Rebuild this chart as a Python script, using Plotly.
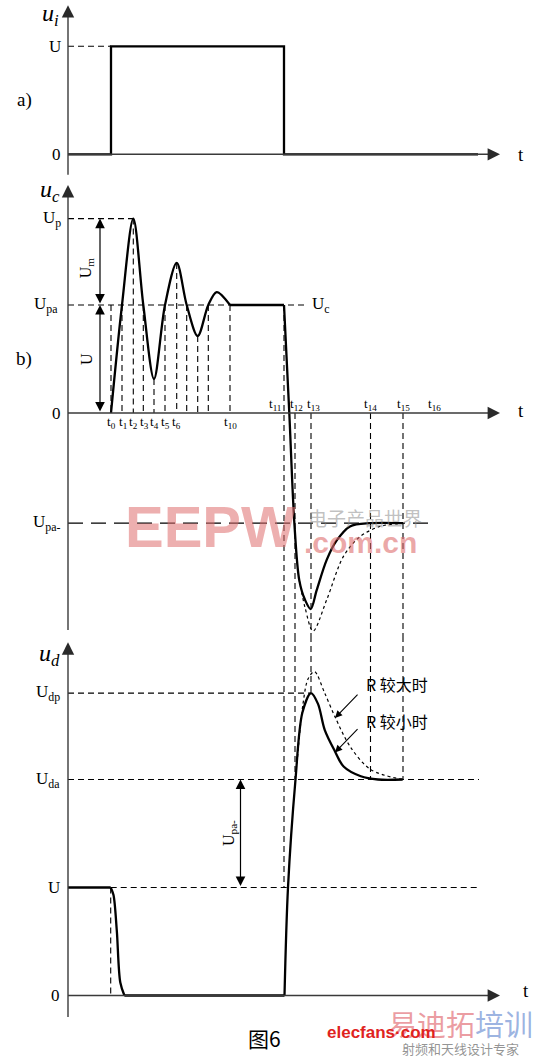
import plotly.graph_objects as go

# ---- data (time in arbitrary units, voltage in units of U) ----
# a) input pulse u_i
ui_t = [0, 4.3, 4.3, 21.6, 21.6, 41.0]
ui_v = [0, 0, 1.0, 1.0, 0, 0]

# b) capacitor voltage u_c
uc_osc_t = [4.3, 5.4, 6.53, 7.53, 8.6, 9.7, 10.87, 11.87, 12.97, 14.03, 14.87, 16.2]
uc_osc_v = [0, 1.0, 1.8, 1.0, 0.315, 1.0, 1.39, 1.0, 0.713, 1.0, 1.12, 1.0]
uc_flat_t = [16.2, 21.6]
uc_flat_v = [1.0, 1.0]
uc_fall_t = [21.6, 22.13, 22.63, 23.13, 23.7, 24.27, 24.87, 25.87, 26.87, 28.2, 30.2, 33.5]
uc_fall_v = [1.0, 0, -1.01, -1.55, -1.73, -1.815, -1.64, -1.36, -1.18, -1.05, -1.02, -1.02]
uc_dot_t = [23.13, 23.7, 24.5, 25.87, 27.53, 29.2, 31.2, 33.5]
uc_dot_v = [-1.55, -1.8, -2.02, -1.73, -1.33, -1.145, -1.05, -1.02]

# c) diode voltage u_d
ud_hold_t = [0, 4.27]
ud_hold_v = [1.0, 1.0]
ud_drop_t = [4.27, 4.55, 4.88, 5.23, 5.64]
ud_drop_v = [1.0, 0.93, 0.6, 0.12, 0]
ud_low_t = [5.64, 21.65]
ud_low_v = [0, 0]
ud_rise_t = [21.65, 22.0, 22.75, 23.44, 24.3, 25.0, 25.67, 26.7, 27.56, 29.28, 31.0, 33.47]
ud_rise_v = [0, 1.0, 2.0, 2.62, 2.8, 2.7, 2.46, 2.26, 2.12, 2.03, 2.0, 2.0]
ud_dot_t = [22.9, 23.5, 24.0, 24.64, 25.67, 26.7, 28.25, 30.3, 33.47]
ud_dot_v = [2.15, 2.7, 2.93, 3.0, 2.8, 2.58, 2.30, 2.09, 2.0]

# levels
U = 1.0
U_P = 1.8
U_PA = 1.0
U_PA_NEG = -1.02
U_DP = 2.8
U_DA = 2.0

# dashed drop lines in b) (time, top value)
gb_t = [4.3, 5.4, 6.53, 7.53, 8.6, 9.7, 10.87, 11.87, 12.97, 14.03, 16.2]
gb_top = [1.0, 1.0, 1.8, 1.0, 0.315, 1.0, 1.39, 1.0, 0.713, 1.0, 1.0]

# long dashed lines t11..t15 crossing b) and c)
long_t = [21.6, 22.7, 24.3, 30.25, 33.5]
long_top_b = [1.0, 0, 0, 0, 0]
long_end_c = [1.0, 2.0, 2.8, 2.0, 2.0]

# time labels
tlow_names = ['0', '1', '2', '3', '4', '5', '6', '10']
tlow_pos = [4.37, 5.47, 6.57, 7.65, 8.65, 9.75, 10.83, 16.2]
thigh_names = ['11', '12', '13', '14', '15', '16']
thigh_pos = [20.7, 22.85, 24.5, 30.2, 33.55, 36.65]

# ---- layout helpers ----
W, H = 539, 1057
PX_T = 10.0      # px per time unit
X0 = 68          # px of the vertical axes
PX_V = 108.0     # px per U
SERIF = 'Liberation Serif'
CJK = 'Noto Sans CJK SC'

# panel: (top px, bottom px, zero px)
panels = {
    'y': (0, 178, 154.3),
    'y2': (178, 636, 413),
    'y3': (636, 1057, 995.5),
}


def yax(top, bot, zero):
    return dict(domain=[1 - bot / H, 1 - top / H],
                range=[(zero - bot) / PX_V, (zero - top) / PX_V],
                visible=False, anchor='x', fixedrange=True)


fig = go.Figure()


def curve(t, v, yref, width=2.3, dash=None, shape='spline'):
    fig.add_trace(go.Scatter(
        x=t, y=v, yaxis=yref, mode='lines', hoverinfo='skip', showlegend=False,
        line=dict(color='black', width=width, dash=dash, shape=shape, smoothing=0.9),
    ))


def dashed(x0, y0, x1, y1, yref, dash='6px,4px'):
    fig.add_shape(type='line', xref='x', yref=yref, x0=x0, y0=y0, x1=x1, y1=y1,
                  line=dict(color='black', width=1.1, dash=dash), layer='below')


def arrow(x, y, ax, ay, yref, both=False, color='#2a2a2a', width=1.3, size=1.3):
    fig.add_annotation(x=x, y=y, ax=ax, ay=ay, xref='x', yref=yref, axref='x', ayref=yref,
                       text='', showarrow=True, arrowhead=2, arrowsize=size,
                       arrowwidth=width, arrowcolor=color, standoff=0, startstandoff=0,
                       arrowside='end+start' if both else 'end', startarrowhead=2,
                       startarrowsize=size)


def label(x, y, text, yref, size=17, xanchor='center', angle=0, font=SERIF, color='black'):
    fig.add_annotation(x=x, y=y, xref='x', yref=yref, text=text, showarrow=False,
                       xanchor=xanchor, yanchor='middle', textangle=angle,
                       font=dict(family=font, size=size, color=color))


T_ARROW = 43.2
LEFT = -0.5

# axes with arrows
axis_v = {'y': (-0.19, 1.38), 'y2': (-2.01, 2.11), 'y3': (-0.2, 3.27)}
for yref, (lo, hi) in axis_v.items():
    fig.add_shape(type='line', xref='x', yref=yref, x0=0, y0=lo, x1=0, y1=hi - 0.1,
                  line=dict(color='#3a3a3a', width=1.4))
    arrow(0, hi, 0, hi - 0.12, yref, size=1.9)
    fig.add_shape(type='line', xref='x', yref=yref, x0=0, y0=0, x1=T_ARROW - 1, y1=0,
                  line=dict(color='#3a3a3a', width=1.4))
    arrow(T_ARROW, 0, T_ARROW - 1.1, 0, yref, size=1.9)

label(44.8, 0, 't', 'y', size=19, xanchor='left')
label(44.8, 0.02, 't', 'y2', size=19, xanchor='left')
label(45.3, 0.05, 't', 'y3', size=19, xanchor='left')

label(-1.8, 1.29, '<i>u<sub>i</sub></i>', 'y', size=24)
label(-1.8, 2.06, '<i>u<sub>c</sub></i>', 'y2', size=24)
label(-1.9, 3.15, '<i>u<sub>d</sub></i>', 'y3', size=24)
label(-4.4, 0.5, 'a)', 'y', size=19)
label(-4.4, 0.5, 'b)', 'y2', size=19)

# ---- panel a ----
dashed(0, U, ui_t[2], U, 'y')
curve(ui_t, ui_v, 'y', shape='linear')
label(LEFT, U, 'U', 'y', xanchor='right')
label(LEFT, 0, '0', 'y', xanchor='right')

# ---- panel b ----
b_bottom = (panels['y2'][2] - panels['y2'][1]) / PX_V
dashed(0, U_P, uc_osc_t[2], U_P, 'y2')
dashed(0, U_PA, 23.9, U_PA, 'y2')
dashed(0, U_PA_NEG, 36.7, U_PA_NEG, 'y2', dash='15px,8px')
for t, top in zip(gb_t, gb_top):
    dashed(t, top, t, 0, 'y2')
for t, top in zip(long_t, long_top_b):
    dashed(t, top, t, b_bottom, 'y2')

label(LEFT, U_P, 'U<sub>p</sub>', 'y2', xanchor='right')
label(LEFT - 0.3, U_PA, 'U<sub>pa</sub>', 'y2', xanchor='right')
label(LEFT, 0, '0', 'y2', xanchor='right')
label(LEFT, U_PA_NEG, 'U<sub>pa-</sub>', 'y2', xanchor='right')
label(24.2, U_PA, 'U<sub>c</sub>', 'y2', xanchor='left')

arrow(3.2, U_P, 3.2, U_PA, 'y2', both=True, color='black', width=1.2, size=1.6)
arrow(3.2, U_PA, 3.2, 0, 'y2', both=True, color='black', width=1.2, size=1.6)
label(1.8, 1.34, 'U<sub>m</sub>', 'y2', size=16, angle=-90)
label(1.8, 0.5, 'U', 'y2', size=16, angle=-90)

for name, pos in zip(tlow_names, tlow_pos):
    label(pos, -0.085, f't<sub>{name}</sub>', 'y2', size=13)
for name, pos in zip(thigh_names, thigh_pos):
    label(pos, 0.075, f't<sub>{name}</sub>', 'y2', size=13)

curve(uc_osc_t, uc_osc_v, 'y2')
curve(uc_flat_t, uc_flat_v, 'y2', shape='linear')
curve(uc_fall_t, uc_fall_v, 'y2')
curve(uc_dot_t, uc_dot_v, 'y2', width=1.2, dash='dot')

# ---- panel c ----
dashed(0, U_DP, ud_rise_t[4], U_DP, 'y3')
dashed(0, U_DA, 41.1, U_DA, 'y3')
dashed(ud_hold_t[1], U, 41.1, U, 'y3')
dashed(ud_drop_t[0], U, ud_drop_t[0], 0, 'y3')
c_top = (panels['y3'][2] - panels['y3'][0]) / PX_V
for t, end in zip(long_t, long_end_c):
    dashed(t, c_top, t, end, 'y3')

label(LEFT - 0.1, U_DP, 'U<sub>dp</sub>', 'y3', xanchor='right')
label(LEFT - 0.1, U_DA, 'U<sub>da</sub>', 'y3', xanchor='right')
label(LEFT - 0.1, U, 'U', 'y3', xanchor='right')
label(LEFT - 0.1, 0, '0', 'y3', xanchor='right')

arrow(17.25, U_DA, 17.25, U, 'y3', both=True, color='black', width=1.2, size=1.6)
label(16.15, 1.5, 'U<sub>pa-</sub>', 'y3', size=16, angle=-90)

curve(ud_hold_t, ud_hold_v, 'y3', shape='linear')
curve(ud_drop_t, ud_drop_v, 'y3')
curve(ud_low_t, ud_low_v, 'y3', shape='linear')
curve(ud_rise_t, ud_rise_v, 'y3')
curve(ud_dot_t, ud_dot_v, 'y3', width=1.2, dash='dot')

label(29.6, 2.88, 'R 较大时', 'y3', size=16, xanchor='left', font=CJK)
label(29.6, 2.54, 'R 较小时', 'y3', size=16, xanchor='left', font=CJK)
arrow(26.7, 2.57, 29.1, 2.8, 'y3', color='black', width=1.1)
arrow(26.7, 2.25, 29.1, 2.48, 'y3', color='black', width=1.1)

label(19.6, -0.395, '图6', 'y3', size=21, font=CJK)

# ---- watermarks ----
label(14.2, -1.05, '<b>EEPW</b>', 'y2', size=58, font='Liberation Sans',
      color='rgba(222,110,110,0.55)')
label(29.7, -0.97, '电子产品世界', 'y2', size=19, font=CJK, color='rgba(140,140,140,0.55)')
label(29.2, -1.2, '<b>.com.cn</b>', 'y2', size=30, font='Liberation Sans',
      color='rgba(222,110,110,0.6)')
label(39.2, -0.25, '<span style="color:rgba(222,90,100,0.6)">易迪拓</span>'
      '<span style="color:rgba(90,130,205,0.6)">培训</span>', 'y3', size=29, font=CJK)
label(31.3, -0.34, '<b>elecfans·com</b>', 'y3', size=17, font='Liberation Sans',
      color='#e0231e')
label(39.2, -0.49, '射频和天线设计专家', 'y3', size=13, font=CJK, color='rgba(120,120,120,0.8)')

fig.update_layout(
    width=W, height=H,
    margin=dict(l=0, r=0, t=0, b=0),
    paper_bgcolor='white', plot_bgcolor='white',
    xaxis=dict(range=[-X0 / PX_T, (W - X0) / PX_T], visible=False, fixedrange=True),
    yaxis=yax(*panels['y']),
    yaxis2=yax(*panels['y2']),
    yaxis3=yax(*panels['y3']),
    showlegend=False,
)

fig.write_html('out.html', config={'displayModeBar': False},
               post_script="document.body.style.margin='0';")
